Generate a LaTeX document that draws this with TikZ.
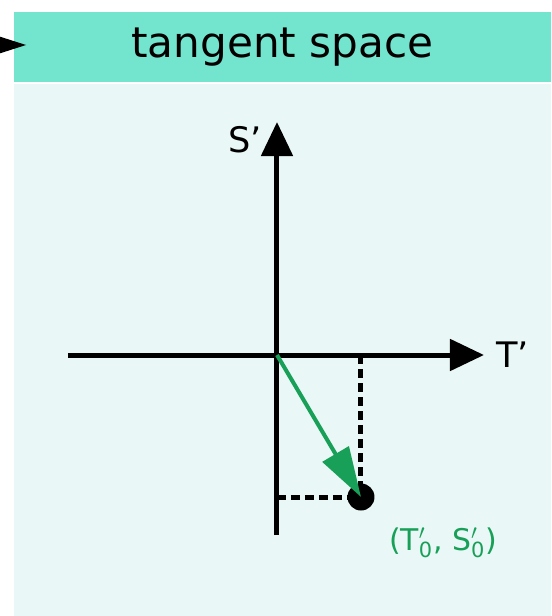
\documentclass[tikz,border=0pt]{standalone}
\usepackage{fontspec}
\setmainfont{DejaVu Sans}
\usetikzlibrary{arrows.meta,positioning}
\definecolor{headteal}{RGB}{115,228,206}
\definecolor{panelbg}{RGB}{234,247,247}
\definecolor{vecgreen}{RGB}{24,160,88}

\begin{document}
\begin{tikzpicture}[
    header/.style={rectangle, fill=headteal, minimum width=10.74cm, minimum height=1.40cm, inner sep=0pt, font=\fontsize{24}{28}\selectfont},
    axis/.style={line width=0.1cm, -{Triangle[length=0.68cm, width=0.62cm]}},
    feed/.style={line width=0.1cm, -{Triangle[length=0.6cm, width=0.34cm]}},
    vector/.style={vecgreen, line width=0.08cm, -{Triangle[length=1.0cm, width=0.6cm]}},
    guide/.style={line width=0.1cm, dash pattern=on 0.18cm off 0.1cm},
    dot/.style={circle, fill=black, inner sep=0pt, minimum size=0.54cm},
    axislabel/.style={font=\fontsize{20}{24}\selectfont},
    pointlabel/.style={text=vecgreen, font=\fontsize{17}{20}\selectfont}
]
\useasboundingbox (-5.54,-5.22) rectangle (5.48,7.10);

% Panel
\fill[panelbg] (-5.26,-5.22) rectangle (5.48,5.42);

% Header
\node[header] (title) at (0.11,6.16) {tangent space};
\coordinate (feedin) at (-5.8,6.2);
\coordinate (feedout) at (-5.0,6.2);
\draw[feed] (feedin) -- (feedout);

% Axes
\coordinate (origin) at (0,0);
\coordinate (tlow) at (-4.18,0);
\coordinate (thigh) at (4.14,0);
\coordinate (slow) at (0,-3.60);
\coordinate (shigh) at (0,4.66);
\draw[axis] (tlow) -- (thigh);
\draw[axis] (slow) -- (shigh);
\node[axislabel, anchor=west] (tlabel) at (4.26,0) {T’};
\node[axislabel] (slabel) at (-0.64,4.30) {S’};

% Point and vector
\node[dot] (p0) at (1.68,-2.84) {};
\draw[guide] (origin -| p0) -- (p0.center);
\draw[guide] (origin |- p0) -- (p0.center);
\draw[vector] (origin) -- (p0.center);
\node[pointlabel] (plabel) at (3.32,-3.76) {(T$'_{\mathrm{0}}$, S$'_{\mathrm{0}}$)};

\end{tikzpicture}
\end{document}
